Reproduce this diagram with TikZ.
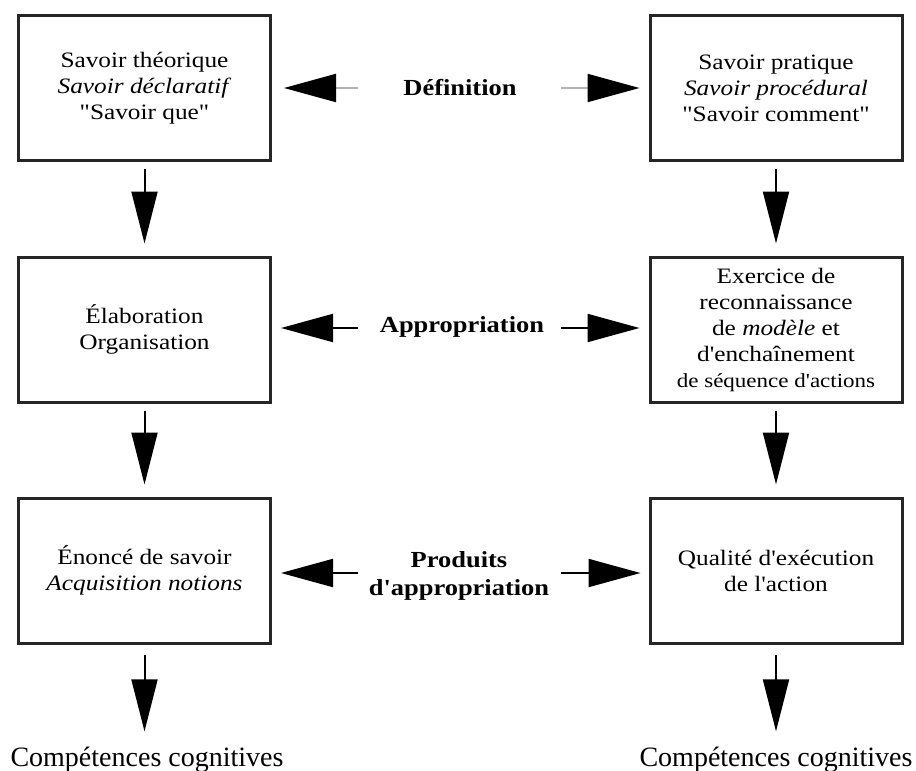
\documentclass[tikz,border=0pt]{standalone}
\usepackage{fontspec}
\setmainfont{Liberation Serif}
\newfontfamily\boxfont{Liberation Serif}[FakeStretch=1.15]
\usetikzlibrary{arrows.meta}
\begin{document}
\begin{tikzpicture}[x=1pt,y=-1pt,
 box/.style={draw=black!85, line width=3pt, minimum width=252pt, minimum height=145pt, inner sep=0pt,
   align=center, font=\boxfont\fontsize{22}{26}\selectfont},
 lab/.style={align=center, font=\boxfont\bfseries\fontsize{23}{28}\selectfont, inner sep=0pt},
 bottomtext/.style={font=\fontsize{28}{32}\selectfont, inner sep=0pt, anchor=base},
 varrow/.style={line width=2pt, -{Triangle[length=52pt,width=26pt]}, shorten <=7pt, shorten >=12pt},
 harrow/.style={line width=2pt, -{Triangle[length=52pt,width=28pt]}},
 garrow/.style={line width=2pt, draw=black!30, -{Triangle[length=52pt,width=28pt,color=black]}}]
\useasboundingbox[fill=white] (0,0) rectangle (916,771);

% boxes
\node[box] (L1) at (144.5,88) {Savoir théorique\\ \textit{Savoir déclaratif}\\ "Savoir que"};
\node[box] (R1) at (776,88) {Savoir pratique\\ \textit{Savoir procédural}\\ "Savoir comment"};
\node[box] (L2) at (144.5,329.5) {Élaboration\\ Organisation};
\node[box] (R2) at (776,329.5) {Exercice de\\ reconnaissance\\ de \textit{modèle} et\\ d'enchaînement\\ {\fontsize{20}{24}\selectfont de séquence d'actions}};
\node[box] (L3) at (144.5,570.5) {Énoncé de savoir\\ \textit{Acquisition notions}};
\node[box] (R3) at (776,570.5) {Qualité d'exécution\\ de l'action};

% bottom texts
\node[bottomtext] (CL) at (147,766) {Compétences cognitives};
\node[bottomtext] (CR) at (776,766) {Compétences cognitives};

% middle labels
\node[lab] (def) at (460,88) {Définition};
\node[lab] (app) at (462,327) {Appropriation};
\node[lab] (prod) at (459,576) {Produits\\ d'appropriation};

% vertical arrows
\draw[varrow] (L1) -- (L2);
\draw[varrow] (L2) -- (L3);
\draw[varrow, shorten <=10pt, shorten >=15pt] (L3.south) -- (L3.south |- CL.north);
\draw[varrow] (R1) -- (R2);
\draw[varrow] (R2) -- (R3);
\draw[varrow, shorten <=10pt, shorten >=15pt] (R3.south) -- (R3.south |- CR.north);

% horizontal arrows
\coordinate (dl) at (358,88);
\coordinate (dr) at (561,88);
\coordinate (al) at (358,328);
\coordinate (ar) at (561,328);
\coordinate (pl) at (358,573);
\coordinate (pr) at (561,573);
\draw[garrow, shorten >=12pt] (dl) -- (dl -| L1.east);
\draw[garrow, shorten >=9pt] (dr) -- (dr -| R1.west);
\draw[harrow, shorten >=9pt] (al) -- (al -| L2.east);
\draw[harrow, shorten >=9pt] (ar) -- (ar -| R2.west);
\draw[harrow, shorten >=9pt] (pl) -- (pl -| L3.east);
\draw[harrow, shorten >=8pt] (pr) -- (pr -| R3.west);
\end{tikzpicture}
\end{document}
